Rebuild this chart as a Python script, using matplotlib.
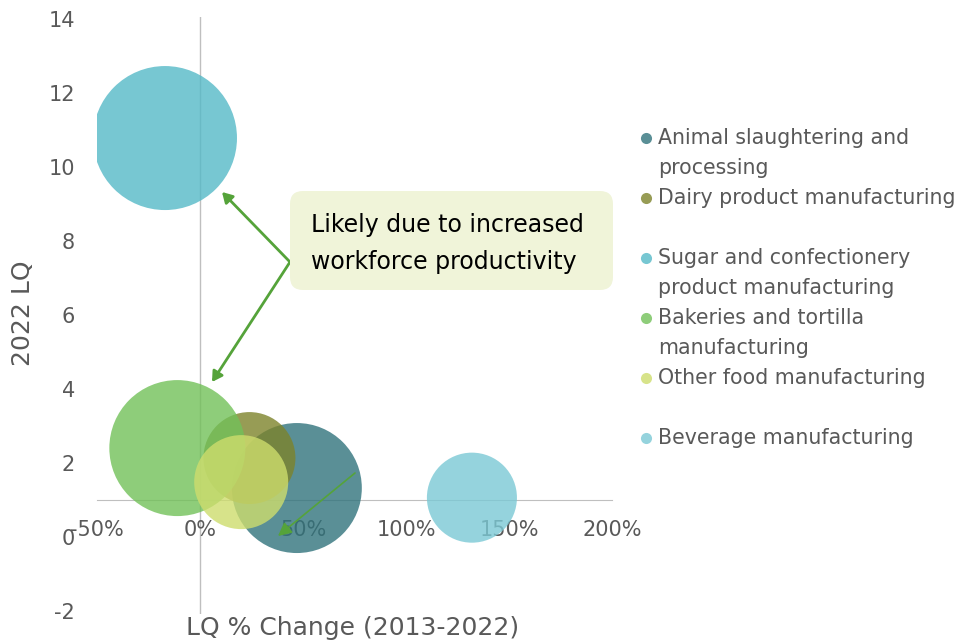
import matplotlib
matplotlib.use('Agg')
import matplotlib.pyplot as plt
from matplotlib.patches import FancyBboxPatch
from matplotlib.ticker import FuncFormatter

# %% data
industries = ['Animal slaughtering and\nprocessing',
              'Dairy product manufacturing',
              'Sugar and confectionery\nproduct manufacturing',
              'Bakeries and tortilla\nmanufacturing',
              'Other food manufacturing',
              'Beverage manufacturing']
lq_change = [47, 24, -17, -11, 20, 132]          # % change 2013-2022
lq_2022 = [1.31, 2.12, 10.77, 2.39, 1.47, 1.05]
bubble = [81.5, 40.8, 100, 89.2, 42.6, 39.1]     # relative bubble value
colors = ['#31737C', '#7D832B', '#55B9C7', '#72C159', '#CEDD6D', '#7BC9D5']

x_ticks = [-50, 0, 50, 100, 150, 200]
y_ticks = [-2, 0, 2, 4, 6, 8, 10, 12, 14]

# %% style
plt.rcParams['font.family'] = 'DejaVu Sans'
plt.rcParams['axes.unicode_minus'] = False
grey = '#595959'
green = '#55A33A'
W, H = 961, 644

fig = plt.figure(figsize=(W/100, H/100), dpi=100)
ax = fig.add_axes([97/W, 29.8/H, 515/W, 597.5/H])
ax.set_xlim(-50, 200)
ax.set_ylim(-2.1, 14.05)

# bubbles, area scaled like excel
for x, y, b, c in zip(lq_change, lq_2022, bubble, colors):
    sc = ax.scatter(x, y, s=b*107.5, color=c, alpha=0.8, edgecolors='none', zorder=2)
    sc.set_clip_path(ax.patch)

# axes lines: horizontal crosses at LQ=1, vertical at 0%
for s in ['top', 'right', 'left']:
    ax.spines[s].set_visible(False)
ax.spines['bottom'].set_position(('data', 1))
ax.spines['bottom'].set_color('#BFBFBF')
ax.spines['bottom'].set_zorder(1)
ax.axvline(0, color='#BFBFBF', lw=1, zorder=1)

ax.set_xticks(x_ticks)
ax.xaxis.set_major_formatter(FuncFormatter(lambda v, p: f'{v:.0f}%'))
ax.set_yticks(y_ticks)
ax.tick_params(axis='both', length=0, labelsize=15, labelcolor=grey)
ax.tick_params(axis='x', pad=15)
ax.tick_params(axis='y', pad=16)

fig.text(23/W, 1-313/H, '2022 LQ', rotation=90, ha='center', va='center', size=18, color=grey)
fig.text(353/W, 1-628/H, 'LQ % Change (2013-2022)', ha='center', va='center', size=18, color=grey)

# callout box
box = FancyBboxPatch((2.90, (H-290)/100), 3.23, 0.99,
                     boxstyle='round,pad=0,rounding_size=0.13',
                     transform=fig.dpi_scale_trans, facecolor='#F0F4D9', edgecolor='none')
fig.add_artist(box)
fig.text(311/W, 1-225/H, 'Likely due to increased', ha='left', va='center', size=17, color='black')
fig.text(311/W, 1-262/H, 'workforce productivity', ha='left', va='center', size=17, color='black')

for tip in [(222, 192), (212, 382)]:
    ax.annotate('', xy=(tip[0], H-tip[1]), xytext=(290, H-262), xycoords='figure pixels',
                arrowprops=dict(arrowstyle='-|>,head_length=0.6,head_width=0.35', color=green,
                                lw=2, shrinkA=0, shrinkB=0), zorder=5)
ax.annotate('', xy=(278, H-536), xytext=(355, H-473), xycoords='figure pixels',
            arrowprops=dict(arrowstyle='-|>,head_length=0.8,head_width=0.4', color=green,
                            lw=1.2, shrinkA=0, shrinkB=0), zorder=5)

# legend (excel style, two rows per entry)
for i, (lab, c) in enumerate(zip(industries, colors)):
    y0 = 138 + 60*i
    fig.lines.append(plt.Line2D([646/W], [1-y0/H], marker='o', ms=8, color=c, alpha=0.8,
                                mec='none', transform=fig.transFigure))
    for j, line in enumerate(lab.split('\n')):
        fig.text(658/W, 1-(y0 + 29.5*j)/H, line, ha='left', va='center', size=14.8, color=grey)

plt.savefig('out.png', dpi=100)
